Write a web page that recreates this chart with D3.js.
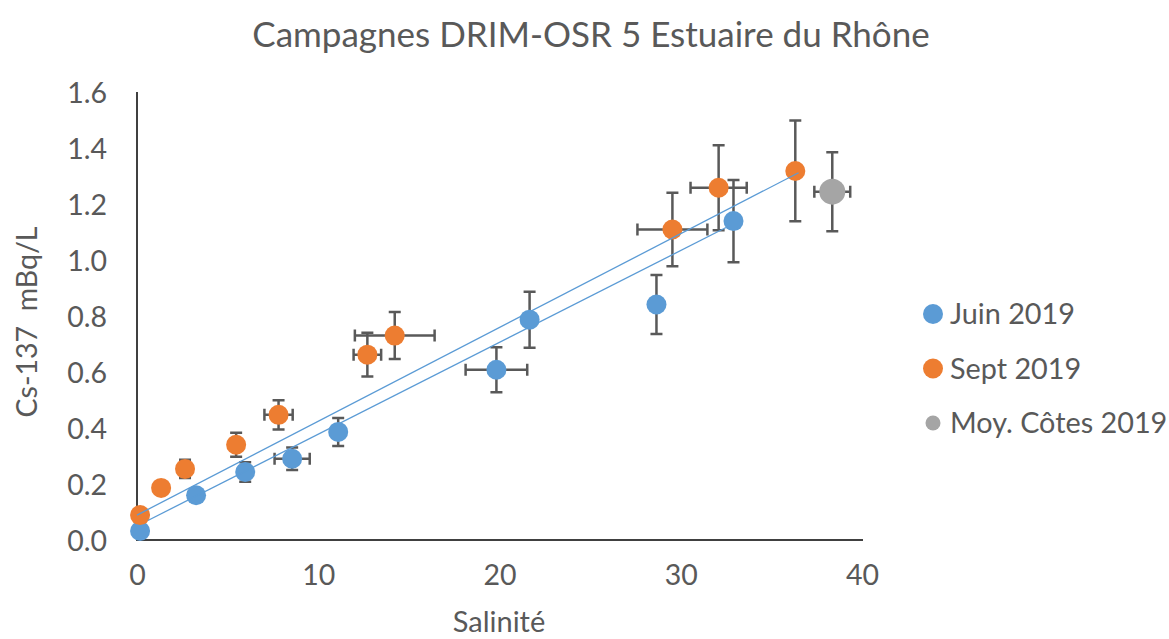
<!DOCTYPE html>
<html>
<head>
<meta charset="utf-8">
<script src="https://cdn.jsdelivr.net/npm/d3@7"></script>
<style>
  html, body { margin: 0; padding: 0; background: #fff; }
  svg { display: block; font-family: Lato, "Noto Sans", sans-serif; }
</style>
</head>
<body>
<svg id="chart" width="1169" height="639"></svg>
<script>
// Juin 2019 campaign: salinity, Cs-137 activity (mBq/L) and their uncertainties
const juinSal    = [0.17, 3.26, 5.97, 8.56, 11.1, 19.83, 21.66, 28.66, 32.91];
const juinCs     = [0.032, 0.16, 0.243, 0.29, 0.386, 0.608, 0.787, 0.841, 1.139];
const juinErrSal = [0, 0, 0, 0.97, 0, 1.7, 0, 0, 0];
const juinErrCs  = [0, 0, 0.035, 0.04, 0.05, 0.08, 0.10, 0.105, 0.147];

// Sept 2019 campaign
const sepSal    = [0.17, 1.33, 2.65, 5.47, 7.81, 12.71, 14.22, 29.54, 32.09, 36.32];
const sepCs     = [0.089, 0.186, 0.254, 0.34, 0.447, 0.662, 0.730, 1.109, 1.258, 1.318];
const sepErrSal = [0, 0, 0, 0, 0.78, 0.76, 2.2, 1.93, 1.55, 0];
const sepErrCs  = [0, 0, 0.033, 0.043, 0.052, 0.078, 0.084, 0.131, 0.152, 0.18];

// Coastal average 2019
const coteSal    = [38.36];
const coteCs     = [1.244];
const coteErrSal = [0.99];
const coteErrCs  = [0.141];

// Linear trends: [intercept, slope, xStart, xEnd]
const trendJuin = [0.050, 0.0328, 0.6, 32.5];
const trendSept = [0.089, 0.0335, 0.0, 36.5];

const xTicks = [0, 10, 20, 30, 40];
const yTicks = [0, 0.2, 0.4, 0.6, 0.8, 1.0, 1.2, 1.4, 1.6];

const seriesNames = ["Juin 2019", "Sept 2019", "Moy. Côtes 2019"];
const colors = ["#5B9BD5", "#ED7D31", "#A5A5A5"];

const svg = d3.select("#chart");
const textColor = "#595959";

const x = d3.scaleLinear().domain([0, 40]).range([137, 862]);
const y = d3.scaleLinear().domain([0, 1.6]).range([540, 92]);

// Title
svg.append("text")
  .attr("x", 591).attr("y", 47)
  .attr("text-anchor", "middle")
  .attr("font-size", 35)
  .attr("fill", textColor)
  .text("Campagnes DRIM-OSR 5 Estuaire du Rhône");

// Axes (lines and labels, no tick marks)
const xAxis = d3.axisBottom(x).tickValues(xTicks).tickSize(0).tickPadding(0)
  .tickFormat(d3.format("d"));
const gx = svg.append("g").attr("transform", `translate(0,${y(0)})`).call(xAxis);
gx.select(".domain").attr("stroke", "#404040").attr("stroke-width", 2)
  .attr("d", `M${x(0)},0H${x(40) + 1}`);
gx.selectAll(".tick text")
  .attr("y", 45).attr("dy", 0)
  .attr("font-size", 28.5).attr("font-family", "Lato, sans-serif")
  .attr("fill", textColor);

const yAxis = d3.axisLeft(y).tickValues(yTicks).tickSize(0).tickPadding(0)
  .tickFormat(d3.format(".1f"));
const gy = svg.append("g").attr("transform", `translate(${x(0)},0)`).call(yAxis);
gy.select(".domain").attr("stroke", "#404040").attr("stroke-width", 2)
  .attr("d", `M0,${y(0) + 1}V${y(1.6)}`);
gy.selectAll(".tick text")
  .attr("x", -30).attr("dy", "0.36em")
  .attr("font-size", 28.5).attr("font-family", "Lato, sans-serif")
  .attr("fill", textColor);

// Axis titles
svg.append("text")
  .attr("x", 499).attr("y", 632)
  .attr("text-anchor", "middle")
  .attr("font-size", 29)
  .attr("fill", textColor)
  .text("Salinité");

svg.append("text")
  .attr("transform", "translate(37,322) rotate(-90)")
  .attr("text-anchor", "middle")
  .attr("font-size", 28.5)
  .attr("fill", textColor)
  .style("white-space", "pre")
  .text("Cs-137  mBq/L");

// Build point records for each series
function rows(sal, cs, eSal, eCs) {
  return sal.map((s, i) => ({ s, c: cs[i], es: eSal[i], ec: eCs[i] }));
}
const series = [
  { pts: rows(juinSal, juinCs, juinErrSal, juinErrCs), color: colors[0], r: 10 },
  { pts: rows(sepSal, sepCs, sepErrSal, sepErrCs), color: colors[1], r: 10 },
  { pts: rows(coteSal, coteCs, coteErrSal, coteErrCs), color: colors[2], r: 13 }
];

// Error bars
const errG = svg.append("g")
  .attr("stroke", "#595959").attr("stroke-width", 2.5).attr("fill", "none");
const cap = 6;
series.forEach(sr => {
  sr.pts.forEach(p => {
    const cx = x(p.s), cy = y(p.c);
    if (p.ec > 0) {
      const y0 = y(p.c - p.ec), y1 = y(p.c + p.ec);
      errG.append("path").attr("d",
        `M${cx},${y0}V${y1}M${cx - cap},${y0}H${cx + cap}M${cx - cap},${y1}H${cx + cap}`);
    }
    if (p.es > 0) {
      const x0 = x(p.s - p.es), x1 = x(p.s + p.es);
      errG.append("path").attr("d",
        `M${x0},${cy}H${x1}M${x0},${cy - cap}V${cy + cap}M${x1},${cy - cap}V${cy + cap}`);
    }
  });
});

// Markers
series.forEach(sr => {
  svg.append("g").selectAll("circle").data(sr.pts).join("circle")
    .attr("cx", d => x(d.s)).attr("cy", d => y(d.c))
    .attr("r", sr.r).attr("fill", sr.color);
});

// Trend lines
[trendJuin, trendSept].forEach(t => {
  const [b, a, xs, xe] = t;
  svg.append("line")
    .attr("x1", x(xs)).attr("y1", y(b + a * xs))
    .attr("x2", x(xe)).attr("y2", y(b + a * xe))
    .attr("stroke", "#5B9BD5").attr("stroke-width", 1.3);
});

// Legend
const legendR = [10, 10, 7.5];
const lg = svg.append("g");
seriesNames.forEach((name, i) => {
  const cy = 314 + i * 54.5;
  lg.append("circle").attr("cx", 933).attr("cy", cy).attr("r", legendR[i]).attr("fill", colors[i]);
  lg.append("text").attr("x", 950).attr("y", cy + 10)
    .attr("font-size", 28.8).attr("fill", textColor).text(name);
});
</script>
</body>
</html>
